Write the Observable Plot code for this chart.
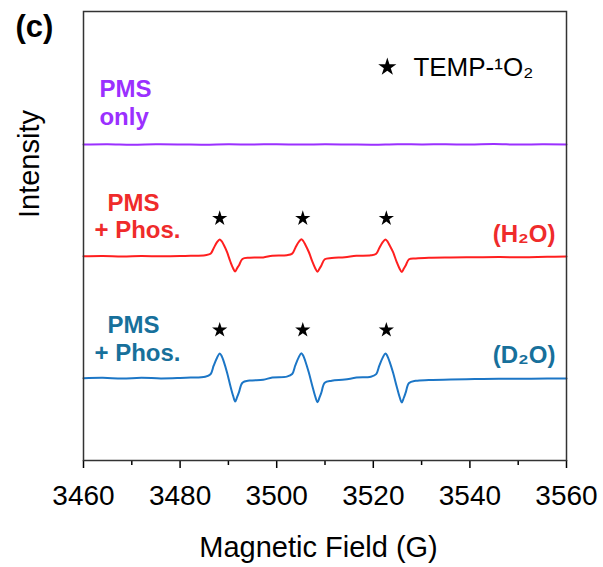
<!DOCTYPE html>
<html><head><meta charset="utf-8">
<script src="https://cdn.jsdelivr.net/npm/d3@7"></script>
<script src="https://cdn.jsdelivr.net/npm/@observablehq/plot@0.6"></script>
<style>body{margin:0;background:#fff;}</style>
</head><body><div id="chart"></div>
<script>
// Magnetic field (G) sample positions for the PMS + Phos. spectra
const field = [3460,3464,3468,3472,3476,3480,
  3482.2,3485.2,3486.3,3486.95,3487.65,3488.2,3488.6,3489.03,3489.73,3490.4,3490.97,3491.4,3491.8,3492.2,3492.9,3494.4,3497.2,
  3499.1,3502.1,3503.2,3503.85,3504.55,3505.1,3505.5,3505.93,3506.65,3507.35,3507.95,3508.45,3508.85,3509.25,3509.95,3511.4,3514.1,
  3516.5,3519.5,3520.6,3521.25,3521.95,3522.5,3522.9,3523.35,3524.1,3524.8,3525.4,3525.9,3526.3,3526.7,3527.4,3528.8,3531.5,
  3536,3541,3546,3551,3556,3560];
// Intensity relative to baseline (a.u.)
const h2oSignal = [0,0.3,-0.2,0.2,-0.1,0.1,
  0.4,1.0,2.4,8.0,14.0,16.7,15.0,11.4,4.0,-5.3,-12.0,-15.3,-12.0,-9.0,-2.8,-1.5,-1.2,
  0.5,1.0,2.6,8.3,14.2,17.0,15.2,11.5,4.2,-5.0,-11.8,-15.6,-12.5,-9.2,-3.0,-1.8,-1.0,
  0.4,0.9,2.5,8.2,14.0,16.8,15.0,11.2,4.0,-5.2,-12.0,-15.8,-12.6,-9.4,-3.0,-2.2,-1.6,
  -1.3,-1.1,-0.9,-1.0,-0.6,-0.4];
const d2oSignal = [0,0.4,-0.3,0.4,-0.2,0.2,
  0.6,1.5,4.0,12.5,20.5,24.8,22.3,16.8,5.5,-7.5,-17.5,-23.3,-19.0,-14.0,-4.5,-2.4,-1.6,
  0.7,1.6,4.2,12.8,20.8,25.0,22.5,17.0,5.6,-7.3,-17.8,-24.0,-19.5,-14.3,-4.6,-2.6,-1.4,
  0.6,1.5,4.1,12.6,20.6,24.8,22.3,16.8,5.4,-7.5,-18.0,-24.2,-19.8,-14.5,-4.8,-2.6,-1.8,
  -1.2,-0.9,-0.6,-0.5,-0.3,-0.2];
// PMS only spectrum
const pmsField = [3460,3465,3470,3475,3480,3485,3490,3495,3500,3505,3510,3515,3520,3525,3530,3535,3540,3545,3550,3555,3560];
const pmsSignal = [0,0.3,-0.2,0.2,0.1,-0.2,0.2,0,0.3,-0.1,0.2,0,-0.2,0.3,0.1,0.2,0,0.4,-0.1,0.3,0.1];
// Vertical offsets of the stacked spectra (a.u.)
const offsets = {pms: 316, h2o: 204.3, d2o: 82.3};
// Star markers (TEMP-1O2 peaks)
const starField = [3488.2, 3505.4, 3522.7];
const starLevel = {h2o: 242.1, d2o: 130.4};
const xTicks = [3460,3480,3500,3520,3540,3560];
const xMinor = [3470,3490,3510,3530,3550];

const colors = {pms: "#9b30ff", h2oLine: "#ff1f1f", h2oText: "#ef2b2b", d2oLine: "#1c76c6", d2oText: "#17709b"};

const pmsData = pmsField.map((f,i)=>({f, v: offsets.pms + pmsSignal[i]}));
const h2oData = field.map((f,i)=>({f, v: offsets.h2o + h2oSignal[i]}));
const d2oData = field.map((f,i)=>({f, v: offsets.d2o + d2oSignal[i]}));
const stars = [
  ...starField.map(f=>({f, v: starLevel.h2o})),
  ...starField.map(f=>({f, v: starLevel.d2o}))
];

const leftLabels = [
  {t:"PMS", f:3463.3, v:363.3, c:colors.pms},
  {t:"only", f:3463.3, v:336, c:colors.pms},
  {t:"PMS", f:3464.97, v:250, c:colors.h2oText},
  {t:"+ Phos.", f:3462.28, v:222.7, c:colors.h2oText},
  {t:"PMS", f:3464.97, v:127.3, c:colors.d2oText},
  {t:"+ Phos.", f:3462.28, v:99.3, c:colors.d2oText}
];
const rightLabels = [
  {t:"(H₂O)", f:3557.7, v:218.3, c:colors.h2oText},
  {t:"(D₂O)", f:3557.7, v:97.7, c:colors.d2oText}
];

const chart = Plot.plot({
  width: 603, height: 567,
  marginLeft: 83, marginRight: 37, marginTop: 11, marginBottom: 107,
  x: {domain: [3460, 3560]},
  y: {domain: [0, 449], axis: null},
  style: {fontFamily: "'Liberation Sans', Arial, sans-serif", color: "black", background: "white"},
  marks: [
    Plot.axisX({ticks: xTicks, tickSize: 8, tickPadding: 17, fontSize: 28, label: null, strokeWidth: 1.5, tickFormat: d=>String(d)}),
    Plot.axisX({ticks: xMinor, tickSize: 5, text: null, label: null, strokeWidth: 1.5}),
    Plot.line(pmsData, {x:"f", y:"v", stroke: colors.pms, strokeWidth: 2, curve: "catmull-rom"}),
    Plot.line(h2oData, {x:"f", y:"v", stroke: colors.h2oLine, strokeWidth: 2, curve: "catmull-rom"}),
    Plot.line(d2oData, {x:"f", y:"v", stroke: colors.d2oLine, strokeWidth: 2, curve: "catmull-rom"}),
    Plot.dot(stars, {x:"f", y:"v", symbol:"star", r: 4.8, fill:"black", stroke:null}),
    Plot.dot([{f:3522.9, v:393.4}], {x:"f", y:"v", symbol:"star", r: 5.7, fill:"black", stroke:null}),
    Plot.text(["TEMP-¹O₂"], {x: ()=>3528.3, y: ()=>385, textAnchor:"start", lineAnchor:"bottom", fontSize: 26, fill:"black"}),
    Plot.text(leftLabels, {x:"f", y:"v", text:"t", fill: d=>d.c, textAnchor:"start", lineAnchor:"bottom", fontSize: 24, fontWeight:"bold"}),
    Plot.text(rightLabels, {x:"f", y:"v", text:"t", fill: d=>d.c, textAnchor:"end", lineAnchor:"bottom", fontSize: 24, fontWeight:"bold"}),
    Plot.frame({stroke:"#333", strokeWidth: 1.5}),
    Plot.text(["(c)"], {frameAnchor:"top-left", dx:-68, dy:25.7, textAnchor:"start", lineAnchor:"bottom", fontSize:31, fontWeight:"bold"}),
    Plot.text(["Magnetic Field (G)"], {frameAnchor:"bottom", dx:-6.5, dy:96, lineAnchor:"bottom", fontSize:29}),
    Plot.text(["Intensity"], {frameAnchor:"left", dx:-45, dy:-18, rotate:-90, lineAnchor:"bottom", fontSize:29})
  ]
});
document.getElementById("chart").append(chart);
</script>
</body></html>
